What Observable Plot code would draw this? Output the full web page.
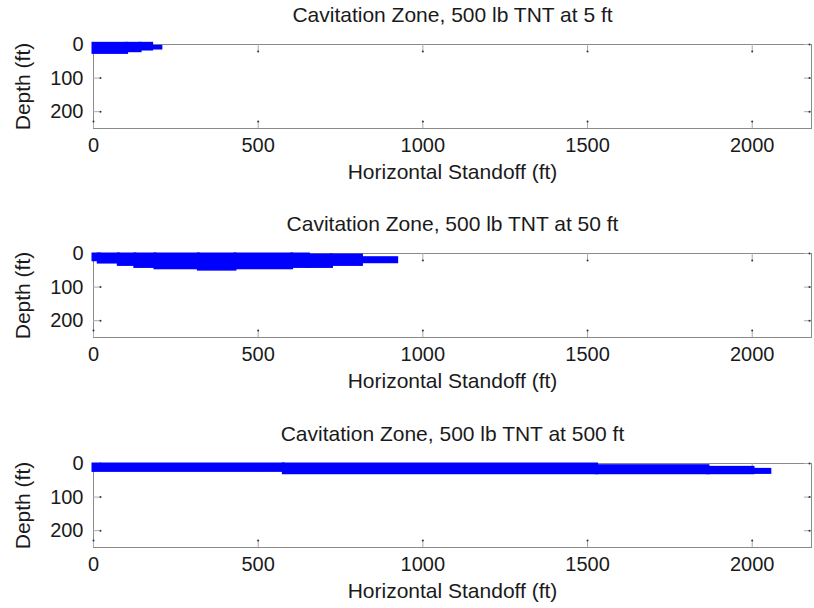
<!DOCTYPE html>
<html><head><meta charset="utf-8">
<script src="https://cdn.jsdelivr.net/npm/d3@7"></script>
<script src="https://cdn.jsdelivr.net/npm/@observablehq/plot@0.6"></script>
<style>
body{margin:0;background:#fff;}
#chart svg{display:block;}
</style></head><body><div id="chart"></div>
<script>
const xTicks = [0, 500, 1000, 1500, 2000];
const yTicks = [0, 100, 200];
const titles = [
  "Cavitation Zone, 500 lb TNT at 5 ft",
  "Cavitation Zone, 500 lb TNT at 50 ft",
  "Cavitation Zone, 500 lb TNT at 500 ft"
];
const xLabel = "Horizontal Standoff (ft)";
const yLabel = "Depth (ft)";

// 5 ft charge: step breakpoints (ft), top and bottom depth of the zone (ft)
const zone5Standoff = [0, 102, 143, 178, 206];
const zone5Top      = [-2, -2, -2, 7, 7];
const zone5Bottom   = [25, 20, 15, 12, 12];

// 50 ft charge
const zone50Standoff = [0, 16, 77, 127, 188, 320, 431, 603, 654, 724, 815, 922];
const zone50Top      = [3, 3, 3, 3, 3, 3, 3, 3, 6, 6, 14, 14];
const zone50Bottom   = [20, 27, 34, 40, 44, 48, 44, 40, 40, 34, 26, 26];

// 500 ft charge
const zone500Standoff = [0, 578, 1529, 1867, 2004, 2055];
const zone500Top      = [3, 3, 8, 13, 19, 19];
const zone500Bottom   = [22, 29, 29, 29, 28, 28];

function segments(xs, tops, bottoms) {
  const out = [];
  for (let i = 0; i < xs.length - 1; i++) {
    out.push({x1: xs[i], x2: xs[i + 1], top: tops[i], bottom: bottoms[i]});
  }
  return out;
}

const panels = [
  {title: titles[0], data: segments(zone5Standoff, zone5Top, zone5Bottom), height: 209},
  {title: titles[1], data: segments(zone50Standoff, zone50Top, zone50Bottom), height: 210},
  {title: titles[2], data: segments(zone500Standoff, zone500Top, zone500Bottom), height: 189}
];

const MT = 44, FH = 84, ML = 93, MR = 3, W = 814;
const FW = W - ML - MR;
const blue = "#0000ff";
const tickLine = "#aaaaaa";
const tickDot = "#333333";

const chart = document.getElementById("chart");
for (const p of panels) {
  const svg = Plot.plot({
    width: W,
    height: p.height,
    marginLeft: ML,
    marginRight: MR,
    marginTop: MT,
    marginBottom: p.height - MT - FH,
    style: {fontFamily: "'Liberation Sans', Arial, Helvetica, sans-serif", fontSize: "20px", color: "#1a1a1a"},
    x: {domain: [0, 2180]},
    y: {domain: [0, 250], reverse: true},
    marks: [
      Plot.frame({stroke: "#8a8a8a"}),
      // inward ticks
      Plot.tickX(xTicks, {x: d => d, insetTop: FH - 7, stroke: tickLine}),
      Plot.tickX(xTicks, {x: d => d, insetBottom: FH - 7, stroke: tickLine}),
      Plot.tickY(yTicks, {y: d => d, insetRight: FW - 7, stroke: tickLine}),
      Plot.tickY(yTicks, {y: d => d, insetLeft: FW - 7, stroke: tickLine}),
      Plot.dot(xTicks, {x: d => d, frameAnchor: "bottom", dy: -7, r: 1, fill: tickDot, stroke: null}),
      Plot.dot(xTicks, {x: d => d, frameAnchor: "top", dy: 7, r: 1, fill: tickDot, stroke: null}),
      Plot.dot(yTicks, {y: d => d, frameAnchor: "left", dx: 7, r: 1, fill: tickDot, stroke: null}),
      Plot.dot(yTicks, {y: d => d, frameAnchor: "right", dx: -2, r: 1, fill: tickDot, stroke: null}),
      // cavitation zone (drawn above frame and ticks)
      Plot.rect(p.data, {x1: "x1", x2: "x2", y1: "top", y2: "bottom", fill: blue}),
      Plot.rect(p.data, {x1: "x1", x2: "x2", y1: "top", y2: "bottom", fill: "none", stroke: blue, strokeWidth: 3}),
      Plot.axisX(xTicks, {tickSize: 0, tickPadding: 9, label: null, tickFormat: d => String(d)}),
      Plot.axisY(yTicks, {tickSize: 0, tickPadding: 10, label: null, tickFormat: d => String(d)}),
      Plot.text([p.title], {frameAnchor: "top", lineAnchor: "middle", textAnchor: "middle", dy: -29, fontSize: 21}),
      Plot.text([xLabel], {frameAnchor: "bottom", lineAnchor: "middle", textAnchor: "middle", dy: 44, fontSize: 21}),
      Plot.text([yLabel], {frameAnchor: "left", lineAnchor: "middle", textAnchor: "middle", dx: -70, rotate: -90, fontSize: 21})
    ]
  });
  chart.appendChild(svg);
}
</script>
</body></html>
